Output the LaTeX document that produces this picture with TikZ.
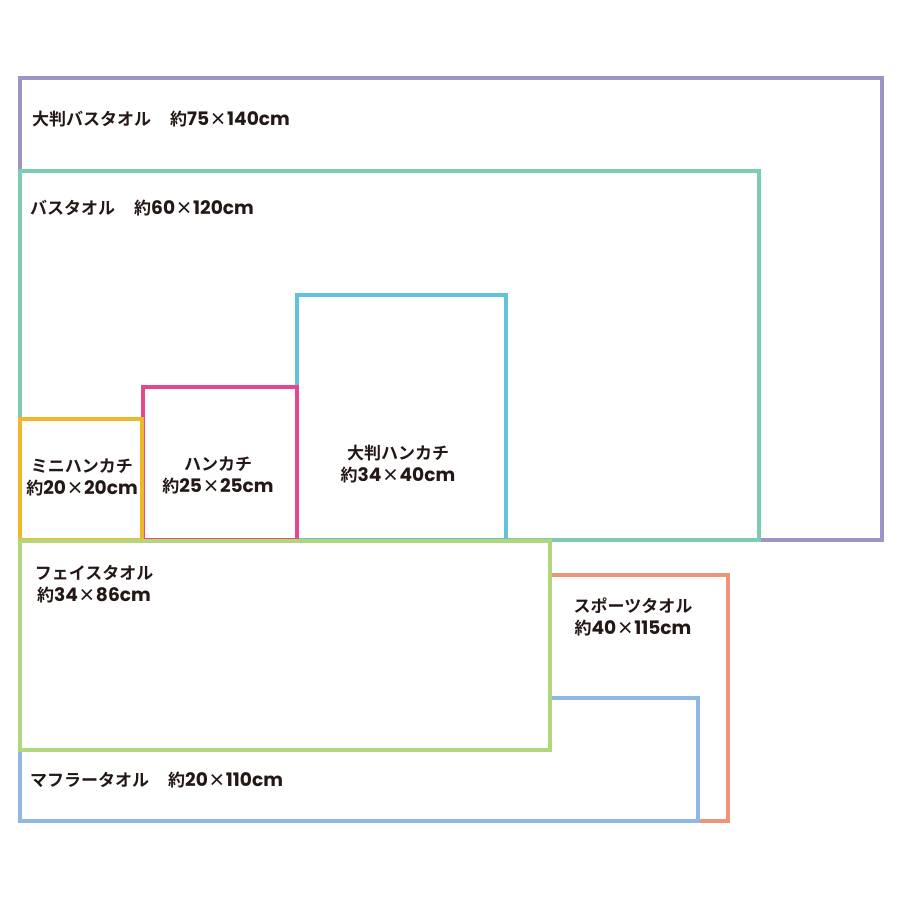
\documentclass[tikz,border=0pt]{standalone}
\usepackage{fontspec}
\newfontfamily\jp{Noto Sans CJK JP Bold}
\newfontfamily\lat{Poppins}
\newcommand\num[1]{{\lat\bfseries\fontsize{18.6}{22}\selectfont #1}}
\newcommand\tms{\kern0.5pt×\kern0.5pt}
\definecolor{cpurple}{HTML}{9D93C9}
\definecolor{cteal}{HTML}{7ECBB4}
\definecolor{ccyan}{HTML}{62C1DC}
\definecolor{cpink}{HTML}{E5478F}
\definecolor{cyellow}{HTML}{EEB828}
\definecolor{cgreen}{HTML}{B2D67A}
\definecolor{corange}{HTML}{EE9479}
\definecolor{cblue}{HTML}{8FB8E2}
\definecolor{ink}{HTML}{231815}
\begin{document}
\begin{tikzpicture}[x=1pt,y=-1pt,
  towel/.style={line width=3.8pt,fill=white,line join=miter,draw=#1},
  lbl/.style={font=\jp\fontsize{17}{22}\selectfont,text=ink,inner sep=0pt,align=center}]
\useasboundingbox[fill=white] (0,0) rectangle (900,900);
\draw[towel=cpurple] (20,78) rectangle (882,540);
\draw[towel=cteal] (20,171) rectangle (759,540);
\draw[towel=ccyan] (297,295) rectangle (506,540);
\draw[towel=cpink] (143,387) rectangle (297,540);
\draw[towel=cyellow] (20,419) rectangle (142,540);
\draw[towel=corange] (20,575) rectangle (728,821);
\draw[towel=cblue] (20,698) rectangle (698,821);
\draw[towel=cgreen] (20,541) rectangle (550,750);
\node[lbl,anchor=west] (l1) at (32,119) {大判バスタオル　\kern2pt約\num{75}\tms\num{140cm}};
\node[lbl,anchor=west] (l2) at (30,208) {バスタオル　\kern2pt約\num{60}\tms\num{120cm}};
\node[lbl] (l3) at (82,477) {ミニハンカチ\\約\num{20}\tms\num{20cm}};
\node[lbl] (l4) at (218,475) {ハンカチ\\約\num{25}\tms\num{25cm}};
\node[lbl] (l5) at (398,464) {大判ハンカチ\\約\num{34}\tms\num{40cm}};
\node[lbl] (l6) at (94,584) {フェイスタオル\\約\num{34}\tms\num{86cm}};
\node[lbl] (l7) at (633,617) {スポーツタオル\\約\num{40}\tms\num{115cm}};
\node[lbl,anchor=west] (l8) at (30,780) {マフラータオル　\kern2pt約\num{20}\tms\num{110cm}};
\end{tikzpicture}
\end{document}
